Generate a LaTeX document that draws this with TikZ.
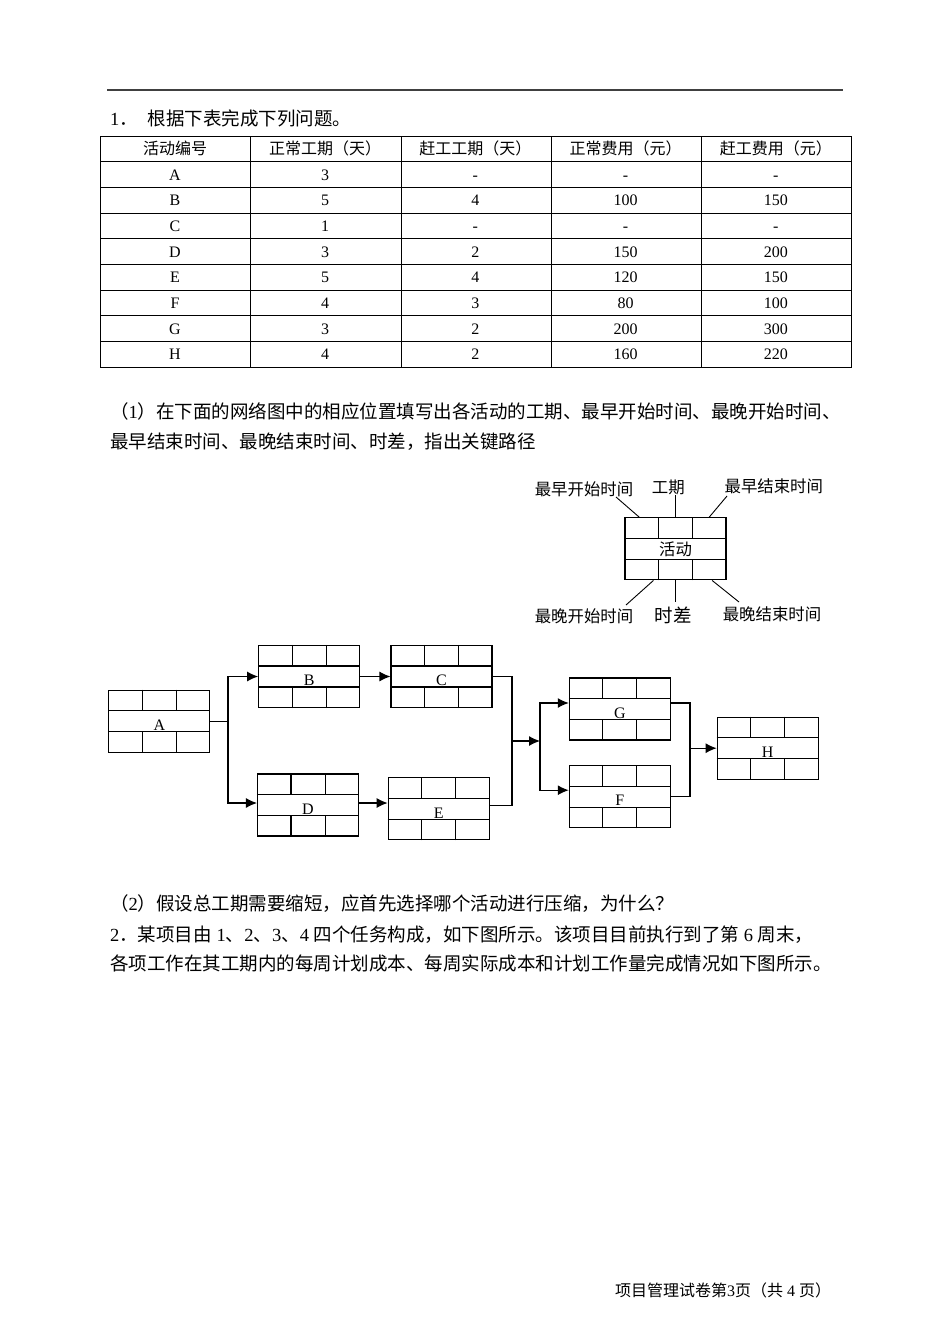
\documentclass[tikz,border=0pt]{standalone}
\usepackage{fontspec}
\setmainfont{Liberation Serif}
\newfontfamily\cjk{Noto Sans CJK SC}
\newcommand\lat[1]{{\rmfamily #1}}
\usetikzlibrary{arrows.meta,calc}

\begin{document}
\begin{tikzpicture}[x=1pt,y=-1pt,
  body/.style={font=\cjk\fontsize{18.5}{22}\selectfont,anchor=base west,inner sep=0pt},
  cell/.style={font=\fontsize{16}{18}\selectfont,anchor=base,inner sep=0pt},
  hd/.style={cell,font=\cjk\fontsize{16}{18}\selectfont},
  tbl/.style={line width=0.9pt},
  box/.style={rectangle,draw,line width=1.1pt,minimum width=101pt,minimum height=62pt,inner sep=0pt},
  act/.style={box,font=\fontsize{16}{16}\selectfont,text height=18.5pt,text depth=0pt},
  grid/.style={line width=1.1pt},
  a/.style={-{Latex[length=11pt,width=10pt]},line width=1.1pt},
  ln/.style={line width=1.1pt},
  note/.style={font=\cjk\fontsize{16.4}{18}\selectfont,inner sep=0pt},
  lead/.style={line width=0.9pt}]

\useasboundingbox (0,0) rectangle (950,1344);

% page rule and question 1
\draw[line width=1.4pt,black!75] (107,90) -- (843,90);
\node[body] (q1) at (110,125.8) {\lat{1}．\hspace{10pt}根据下表完成下列问题。};

% table
\draw[tbl] (100,136) rectangle (851,367);
\foreach \i in {1,...,8} \draw[tbl] (100,{136+\i*25.67}) -- (851,{136+\i*25.67});
\foreach \x in {250,401,551,701} \draw[tbl] (\x,136) -- (\x,367);
\foreach \t [count=\j] in {活动编号,正常工期（天）,赶工工期（天）,正常费用（元）,赶工费用（元）}
  \node[hd] (h\j) at ({24.8+\j*150.2},154.5) {\t};
\foreach \n/\p/\q/\r/\s [count=\i] in {A/3/-/-/-,B/5/4/100/150,C/1/-/-/-,D/3/2/150/200,
    E/5/4/120/150,F/4/3/80/100,G/3/2/200/300,H/4/2/160/220}{
  \pgfmathsetmacro\yy{136+(\i+0.5)*25.67+5.5}
  \node[cell] (n\n) at (175,\yy) {\n};
  \node[cell] (p\n) at (325.2,\yy) {\p};
  \node[cell] (q\n) at (475.4,\yy) {\q};
  \node[cell] (r\n) at (625.6,\yy) {\r};
  \node[cell] (s\n) at (775.8,\yy) {\s};
}

% part (1)
\node[body] (s1a) at (110,418.5) {（\lat{1}）在下面的网络图中的相应位置填写出各活动的工期、最早开始时间、最晚开始时间、};
\node[body] (s1b) at (110,448) {最早结束时间、最晚结束时间、时差，指出关键路径};

% legend box
\node[box,font=\cjk\fontsize{16.4}{18}\selectfont] (lg) at (675.5,548.9) {活动};
\node[note] (l1) at (584,489) {最早开始时间};
\node[note] (l2) at (668.3,487) {工期};
\node[note] (l3) at (773.8,486.7) {最早结束时间};
\node[note] (l4) at (584,616.7) {最晚开始时间};
\node[note,font=\cjk\fontsize{18.5}{20}\selectfont] (l5) at (673,615) {时差};
\node[note] (l6) at (772,614.7) {最晚结束时间};
\coordinate (t1) at (616,497); \coordinate (t3) at (727,496);
\coordinate (b1) at (626,605); \coordinate (b2) at (675.5,602); \coordinate (b3) at (739,602);
\draw[lead] ([xshift=15pt]lg.north west) -- (t1);
\draw[lead] (lg.north) -- (lg.north |- l2.south);
\draw[lead] ([xshift=-17.5pt]lg.north east) -- (t3);
\draw[lead] ([xshift=29pt]lg.south west) -- (b1);
\draw[lead] (lg.south) -- (b2);
\draw[lead] ([xshift=-14.4pt]lg.south east) -- (b3);

% activity boxes
\node[act] (A) at (159.3,721.2) {A};
\node[act] (B) at (309.2,676.5) {B};
\node[act] (C) at (441.5,676.5) {C};
\node[act] (D) at (308,805) {D};
\node[act] (E) at (438.7,808.8) {E};
\node[act] (G) at (619.8,709) {G};
\node[act] (F) at (619.8,796.7) {F};
\node[act] (H) at (767.7,748.2) {H};

% cells of every box
\foreach \n in {lg,A,B,C,D,E,F,G,H}{
  \draw[grid] ($(\n.north west)!0.333!(\n.south west)$) -- ($(\n.north east)!0.333!(\n.south east)$);
  \draw[grid] ($(\n.north west)!0.667!(\n.south west)$) -- ($(\n.north east)!0.667!(\n.south east)$);
  \foreach \f in {0.333,0.667}{
    \draw[grid] ($(\n.north west)!\f!(\n.north east)$) -- ++(0,20.7);
    \draw[grid] ($(\n.south west)!\f!(\n.south east)$) -- ++(0,-20.7);
  }
}

% links
\coordinate (j1) at (228,721.2);
\coordinate (d1) at ([yshift=2pt]D.east);
\coordinate (j2) at (512,741);
\coordinate (j3) at (540,741);
\coordinate (j4) at (690,748.2);
\draw[ln] (A.east) -- (j1);
\draw[a] (j1) |- (B.west);
\draw[a] (j1) |- ([yshift=2pt]D.west);
\draw[a] (B.east) -- (C.west);
\draw[a] (d1) -- (d1 -| E.west);
\draw[ln] (C.east) -| (j2);
\draw[ln] ([yshift=3pt]E.east) -| (j2);
\draw[a] (j2) -- (j3);
\draw[a] (j3) |- ([yshift=6pt]G.west);
\draw[a] (j3) |- ([yshift=6.5pt]F.west);
\draw[ln] ([yshift=6pt]G.east) -| (j4);
\draw[ln] (F.east) -| (j4);
\draw[a] (j4) -- (H.west);

% part (2) and question 2
\node[body] (s2) at (110,910.8) {（\lat{2}）假设总工期需要缩短，应首先选择哪个活动进行压缩，为什么？};
\node[body] (s3a) at (110,941) {\lat{2}．某项目由\lat{ 1}、\lat{2}、\lat{3}、\lat{4 }四个任务构成，如下图所示。该项目目前执行到了第\lat{ 6 }周末，};
\node[body] (s3b) at (110,970.5) {各项工作在其工期内的每周计划成本、每周实际成本和计划工作量完成情况如下图所示。};

% footer
\node[body,font=\cjk\fontsize{16}{18}\selectfont] (ft) at (615,1296) {项目管理试卷第\lat{3}页（共\lat{ 4 }页）};
\end{tikzpicture}
\end{document}
